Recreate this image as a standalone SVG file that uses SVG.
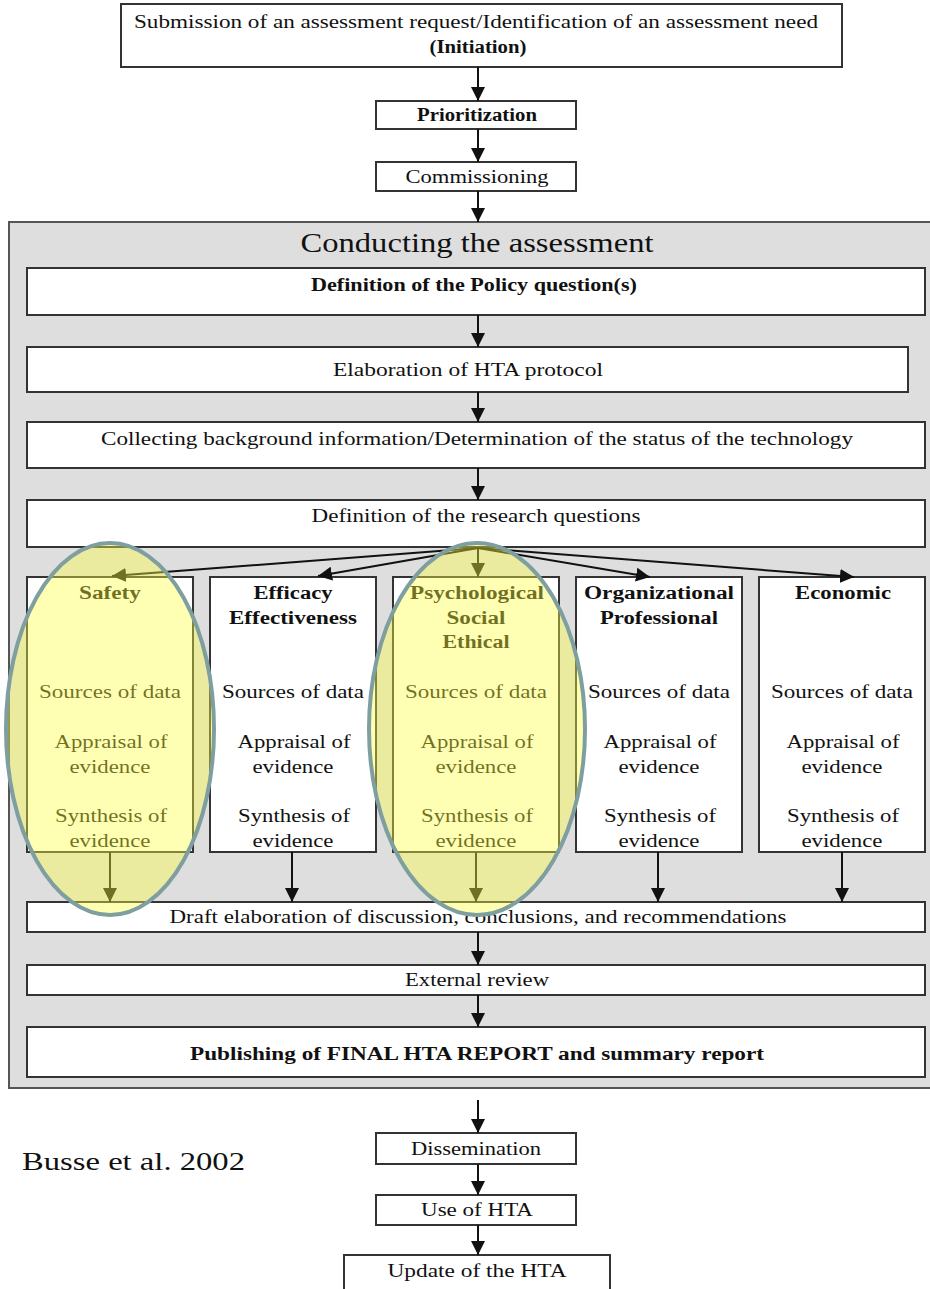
<svg xmlns="http://www.w3.org/2000/svg" width="930" height="1289" viewBox="0 0 930 1289">
<defs>
<marker id="ah" viewBox="0 0 14 14" refX="14" refY="7" markerWidth="14" markerHeight="14" markerUnits="userSpaceOnUse" orient="auto">
<path d="M0,0 L14,7 L0,14 z" fill="#111"/>
</marker>
<style>
.box{fill:#fff;stroke:#333;stroke-width:2}
.frame{fill:#dedede;stroke:#555;stroke-width:2}
.t{font-family:'Liberation Serif','Times New Roman',Tinos,serif;font-size:18px;fill:#111;text-anchor:middle}
.b{font-weight:bold}
.c{stroke:#111;stroke-width:2;fill:none;marker-end:url(#ah)}
.hl{fill:#ffff40;fill-opacity:0.4;stroke:#7f9ea0;stroke-width:4}
</style>
</defs>
<rect width="930" height="1289" fill="#fff"/>

<g id="frame-conducting">
<rect class="frame" x="9" y="222" width="930" height="866"/>
<text class="t" x="477" y="252" style="font-size:27px" textLength="353" lengthAdjust="spacingAndGlyphs">Conducting the assessment</text>
</g>

<g id="n-initiation">
<rect class="box" x="121" y="4" width="721" height="63"/>
<text class="t" x="476" y="28" textLength="684" lengthAdjust="spacingAndGlyphs">Submission of an assessment request/Identification of an assessment need</text>
<text class="t b" x="478" y="53" textLength="97" lengthAdjust="spacingAndGlyphs">(Initiation)</text>
</g>
<g id="n-prioritization">
<rect class="box" x="376" y="101" width="200" height="28"/>
<text class="t b" x="477" y="121" textLength="120" lengthAdjust="spacingAndGlyphs">Prioritization</text>
</g>
<g id="n-commissioning">
<rect class="box" x="376" y="162" width="200" height="29"/>
<text class="t" x="477" y="183" textLength="143" lengthAdjust="spacingAndGlyphs">Commissioning</text>
</g>

<g id="n-policy">
<rect class="box" x="27" y="268" width="898" height="47"/>
<text class="t b" x="474" y="291" textLength="326" lengthAdjust="spacingAndGlyphs">Definition of the Policy question(s)</text>
</g>
<g id="n-protocol">
<rect class="box" x="27" y="347" width="881" height="45"/>
<text class="t" x="468" y="376" textLength="270" lengthAdjust="spacingAndGlyphs">Elaboration of HTA protocol</text>
</g>
<g id="n-background">
<rect class="box" x="27" y="422" width="898" height="46"/>
<text class="t" x="477" y="445" textLength="752" lengthAdjust="spacingAndGlyphs">Collecting background information/Determination of the status of the technology</text>
</g>
<g id="n-research">
<rect class="box" x="27" y="500" width="898" height="47"/>
<text class="t" x="476" y="522" textLength="329" lengthAdjust="spacingAndGlyphs">Definition of the research questions</text>
</g>

<g id="n-safety">
<rect class="box" x="27" y="577" width="166" height="275"/>
<text class="t b" x="110" y="599" textLength="62" lengthAdjust="spacingAndGlyphs">Safety</text>
<text class="t" x="110" y="698" textLength="142" lengthAdjust="spacingAndGlyphs">Sources of data</text>
<text class="t" x="111" y="748" textLength="113" lengthAdjust="spacingAndGlyphs">Appraisal of</text>
<text class="t" x="110" y="773" textLength="81" lengthAdjust="spacingAndGlyphs">evidence</text>
<text class="t" x="111" y="822" textLength="112" lengthAdjust="spacingAndGlyphs">Synthesis of</text>
<text class="t" x="110" y="847" textLength="81" lengthAdjust="spacingAndGlyphs">evidence</text>
</g>
<g id="n-efficacy">
<rect class="box" x="210" y="577" width="166" height="275"/>
<text class="t b" x="293" y="599" textLength="79" lengthAdjust="spacingAndGlyphs">Efficacy</text>
<text class="t b" x="293" y="624" textLength="128" lengthAdjust="spacingAndGlyphs">Effectiveness</text>
<text class="t" x="293" y="698" textLength="142" lengthAdjust="spacingAndGlyphs">Sources of data</text>
<text class="t" x="294" y="748" textLength="113" lengthAdjust="spacingAndGlyphs">Appraisal of</text>
<text class="t" x="293" y="773" textLength="81" lengthAdjust="spacingAndGlyphs">evidence</text>
<text class="t" x="294" y="822" textLength="112" lengthAdjust="spacingAndGlyphs">Synthesis of</text>
<text class="t" x="293" y="847" textLength="81" lengthAdjust="spacingAndGlyphs">evidence</text>
</g>
<g id="n-psych">
<rect class="box" x="393" y="577" width="166" height="275"/>
<text class="t b" x="477" y="599" textLength="134" lengthAdjust="spacingAndGlyphs">Psychological</text>
<text class="t b" x="476" y="624" textLength="59" lengthAdjust="spacingAndGlyphs">Social</text>
<text class="t b" x="476" y="648" textLength="67" lengthAdjust="spacingAndGlyphs">Ethical</text>
<text class="t" x="476" y="698" textLength="142" lengthAdjust="spacingAndGlyphs">Sources of data</text>
<text class="t" x="477" y="748" textLength="113" lengthAdjust="spacingAndGlyphs">Appraisal of</text>
<text class="t" x="476" y="773" textLength="81" lengthAdjust="spacingAndGlyphs">evidence</text>
<text class="t" x="477" y="822" textLength="112" lengthAdjust="spacingAndGlyphs">Synthesis of</text>
<text class="t" x="476" y="847" textLength="81" lengthAdjust="spacingAndGlyphs">evidence</text>
</g>
<g id="n-organizational">
<rect class="box" x="576" y="577" width="166" height="275"/>
<text class="t b" x="659" y="599" textLength="150" lengthAdjust="spacingAndGlyphs">Organizational</text>
<text class="t b" x="659" y="624" textLength="118" lengthAdjust="spacingAndGlyphs">Professional</text>
<text class="t" x="659" y="698" textLength="142" lengthAdjust="spacingAndGlyphs">Sources of data</text>
<text class="t" x="660" y="748" textLength="113" lengthAdjust="spacingAndGlyphs">Appraisal of</text>
<text class="t" x="659" y="773" textLength="81" lengthAdjust="spacingAndGlyphs">evidence</text>
<text class="t" x="660" y="822" textLength="112" lengthAdjust="spacingAndGlyphs">Synthesis of</text>
<text class="t" x="659" y="847" textLength="81" lengthAdjust="spacingAndGlyphs">evidence</text>
</g>
<g id="n-economic">
<rect class="box" x="759" y="577" width="166" height="275"/>
<text class="t b" x="843" y="599" textLength="96" lengthAdjust="spacingAndGlyphs">Economic</text>
<text class="t" x="842" y="698" textLength="142" lengthAdjust="spacingAndGlyphs">Sources of data</text>
<text class="t" x="843" y="748" textLength="113" lengthAdjust="spacingAndGlyphs">Appraisal of</text>
<text class="t" x="842" y="773" textLength="81" lengthAdjust="spacingAndGlyphs">evidence</text>
<text class="t" x="843" y="822" textLength="112" lengthAdjust="spacingAndGlyphs">Synthesis of</text>
<text class="t" x="842" y="847" textLength="81" lengthAdjust="spacingAndGlyphs">evidence</text>
</g>

<g id="n-draft">
<rect class="box" x="27" y="902" width="898" height="30"/>
<text class="t" x="478" y="923" textLength="617" lengthAdjust="spacingAndGlyphs">Draft elaboration of discussion, conclusions, and recommendations</text>
</g>
<g id="n-review">
<rect class="box" x="27" y="965" width="898" height="30"/>
<text class="t" x="477" y="986" textLength="144" lengthAdjust="spacingAndGlyphs">External review</text>
</g>
<g id="n-publishing">
<rect class="box" x="27" y="1027" width="898" height="50"/>
<text class="t b" x="477" y="1060" textLength="574" lengthAdjust="spacingAndGlyphs">Publishing of FINAL HTA REPORT and summary report</text>
</g>

<g id="n-dissemination">
<rect class="box" x="376" y="1133" width="200" height="31"/>
<text class="t" x="476" y="1155" textLength="130" lengthAdjust="spacingAndGlyphs">Dissemination</text>
</g>
<g id="n-use">
<rect class="box" x="376" y="1195" width="200" height="30"/>
<text class="t" x="477" y="1216" textLength="112" lengthAdjust="spacingAndGlyphs">Use of HTA</text>
</g>
<g id="n-update">
<rect class="box" x="344" y="1255" width="266" height="40"/>
<text class="t" x="477" y="1277" textLength="179" lengthAdjust="spacingAndGlyphs">Update of the HTA</text>
</g>

<g id="citation">
<text x="22" y="1170" style="font-family:'Liberation Serif','Times New Roman',Tinos,serif;font-size:26px;fill:#111" textLength="223" lengthAdjust="spacingAndGlyphs">Busse et al. 2002</text>
</g>

<g id="connectors">
<line class="c" x1="478" y1="67" x2="478" y2="101"/>
<line class="c" x1="478" y1="129" x2="478" y2="162"/>
<line class="c" x1="478" y1="191" x2="478" y2="222"/>
<line class="c" x1="478" y1="315" x2="478" y2="347"/>
<line class="c" x1="478" y1="392" x2="478" y2="422"/>
<line class="c" x1="478" y1="468" x2="478" y2="500"/>
<line class="c" x1="478" y1="548" x2="112" y2="576"/>
<line class="c" x1="478" y1="548" x2="318" y2="576"/>
<line class="c" x1="478" y1="548" x2="478" y2="577"/>
<line class="c" x1="478" y1="548" x2="650" y2="577"/>
<line class="c" x1="478" y1="548" x2="854" y2="577"/>
<line class="c" x1="110" y1="852" x2="110" y2="902"/>
<line class="c" x1="292" y1="852" x2="292" y2="902"/>
<line class="c" x1="476" y1="852" x2="476" y2="902"/>
<line class="c" x1="658" y1="852" x2="658" y2="902"/>
<line class="c" x1="842" y1="852" x2="842" y2="902"/>
<line class="c" x1="478" y1="932" x2="478" y2="965"/>
<line class="c" x1="478" y1="995" x2="478" y2="1027"/>
<line class="c" x1="478" y1="1100" x2="478" y2="1133"/>
<line class="c" x1="478" y1="1164" x2="478" y2="1195"/>
<line class="c" x1="478" y1="1225" x2="478" y2="1255"/>
</g>

<g id="highlights">
<ellipse class="hl" cx="110" cy="729" rx="104" ry="186"/>
<ellipse class="hl" cx="477" cy="729" rx="108" ry="186"/>
</g>
</svg>
